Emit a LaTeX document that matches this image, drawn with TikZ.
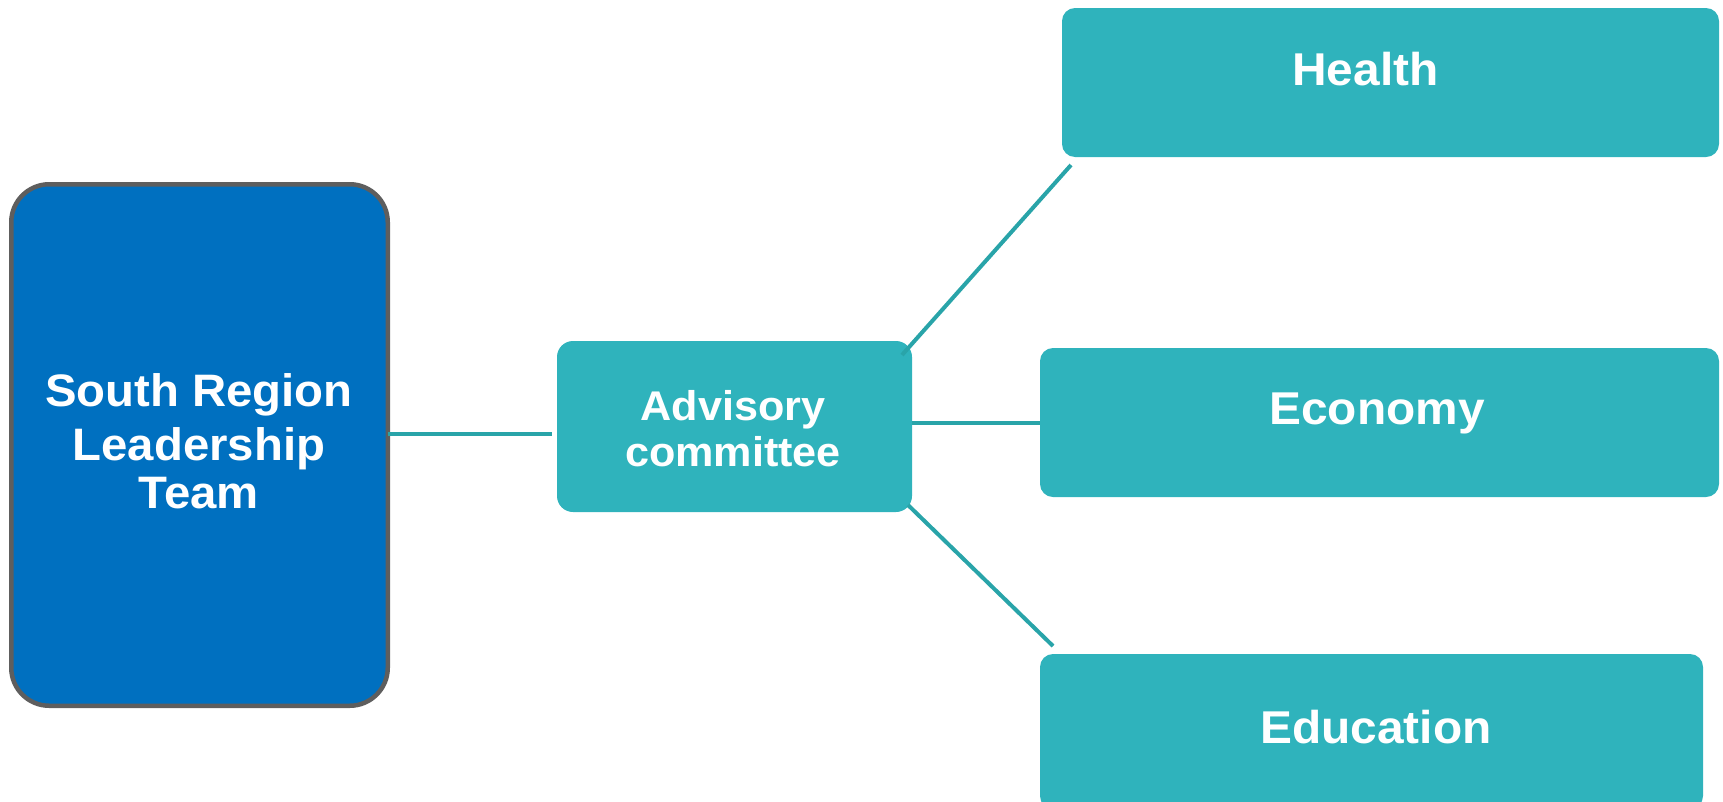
\documentclass[tikz,border=0pt]{standalone}
\usepackage{fontspec}
\setmainfont{Liberation Sans}[BoldFeatures={FakeStretch=1.04}]
\usetikzlibrary{calc}
\definecolor{leadfill}{HTML}{0070C0}
\definecolor{leadborder}{HTML}{5E5E5E}
\definecolor{tealfill}{HTML}{2FB3BC}
\definecolor{conncol}{HTML}{29A4A9}
\begin{document}
\begin{tikzpicture}[x=1pt,y=-1pt,
  leaderbox/.style={draw=leadborder, line width=4.5pt, fill=leadfill, rounded corners=38pt,
    minimum width=376.5pt, minimum height=521.5pt, inner sep=0pt, outer sep=0pt},
  tealbox/.style={fill=tealfill, draw=none, rounded corners=13pt, inner sep=0pt, outer sep=0pt},
  conn/.style={draw=conncol, line width=4pt},
  bigtxt/.style={text=white, inner sep=0pt, anchor=base, font=\bfseries\fontsize{46}{50}\selectfont},
  leadtxt/.style={text=white, inner sep=0pt, anchor=base, font=\bfseries\fontsize{45.5}{50}\selectfont},
  advtxt/.style={text=white, inner sep=0pt, anchor=base, font=\bfseries\fontsize{41.5}{46}\selectfont}]
\useasboundingbox (0,0) rectangle (1723,801);

% boxes
\node[leaderbox] (leader) at (199.5,445) {};
\node[tealbox, minimum width=355pt, minimum height=171pt, rounded corners=16pt] (adv) at (734.5,426.5) {};
\node[tealbox, minimum width=657pt, minimum height=149pt] (health) at (1390.5,82.5) {};
\node[tealbox, minimum width=679pt, minimum height=149pt] (econ) at (1379.5,422.5) {};
\node[tealbox, minimum width=663pt, minimum height=155pt] (educ) at (1371.5,731.5) {};

% texts
\node[leadtxt] (leadA) at (199,406.7) {South Region};
\node[leadtxt] (leadB) at (199,460) {Leadership};
\node[leadtxt] (leadC) at (199,508) {Team};
\node[advtxt] (advA) at (733,420) {Advisory};
\node[advtxt] (advB) at (733,466) {committee};
\node[bigtxt] (healthT) at (1365.5,85) {Health};
\node[bigtxt] (econT) at (1377,424) {Economy};
\node[bigtxt] (educT) at (1376,743) {Education};

% connectors
\draw[conn] ($(leader.east)+(0,-11)$) coordinate (la) -- ($(adv.west |- la)+(-5,0)$);
\draw[conn] (econ.west -| adv.east) -- (econ.west);
\draw[conn] ($(adv.north east)+(-10,14)$) -- ($(health.south west)+(9,8)$);
\draw[conn] ($(adv.south east)+(-4,-7)$) -- ($(educ.north west)+(13,-8)$);
\end{tikzpicture}
\end{document}
